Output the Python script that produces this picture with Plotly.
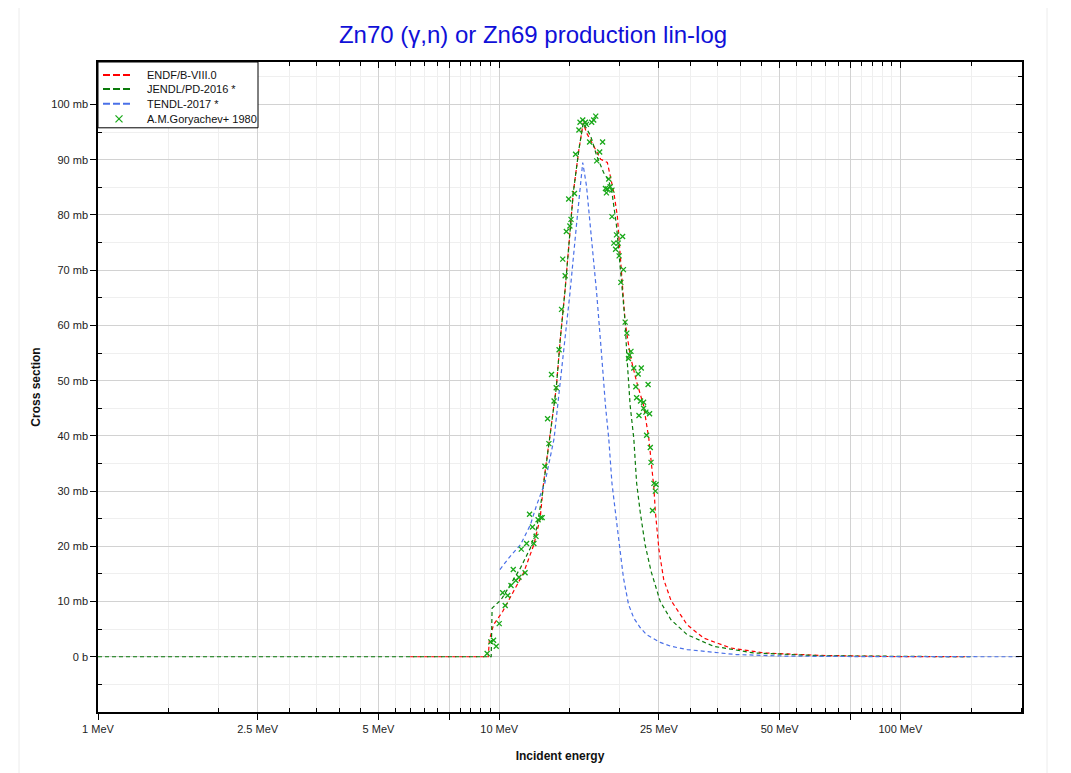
import plotly.graph_objects as go

# ---------------- data ----------------
endf_e = [6.0, 9.39, 9.45, 9.68, 10.2, 10.84, 11.5, 12.2, 12.65, 12.9, 13.4, 13.87, 14.2, 14.6,
          15.3, 15.8, 16.2, 16.5, 17.2, 17.9, 18.6, 18.9, 19.3, 19.7, 20.0, 20.4, 20.6, 21.2,
          22.0, 22.9, 23.6, 24.3, 24.5, 25.0, 25.7, 26.8, 29.4, 32.3, 37.7, 45.6, 63.0, 93.0, 145.0]
endf_y = [0, 0, 3.0, 5.8, 8.2, 11.9, 15.2, 20.3, 25.1, 31.5, 40.1, 48.6, 57.6, 66.6,
          84.1, 91.9, 96.7, 94.9, 92.5, 90.1, 89.5, 87.1, 84.1, 79.8, 73.8, 64.8, 60.6, 54.6,
          49.8, 45.5, 39.5, 30.5, 26.3, 19.5, 14.0, 10.2, 5.8, 3.4, 1.6, 0.7, 0.25, 0.05, 0.0]

jendl_e = [1.0, 9.55, 9.6, 10.1, 10.65, 11.3, 11.96, 12.4, 12.8, 13.4, 13.87, 14.2, 14.6, 15.3,
           15.8, 16.2, 16.9, 17.5, 18.2, 18.75, 19.1, 19.6, 20.2, 20.6, 20.8, 21.2, 21.65, 22.0,
           22.45, 23.1, 23.9, 25.2, 26.8, 29.4, 34.2, 43.0, 63.0, 100.0, 150.0]
jendl_y = [0, 0, 8.8, 10.3, 13.0, 16.1, 19.7, 23.3, 29.3, 40.1, 48.6, 57.6, 66.6, 84.1,
           91.9, 96.7, 94.3, 90.7, 87.7, 86.2, 84.1, 78.1, 66.6, 60.6, 54.6, 45.5, 39.5, 31.5,
           26.3, 20.3, 15.5, 10.0, 6.7, 4.0, 1.9, 0.7, 0.18, 0.03, 0.0]

tendl_e = [10.04, 10.65, 11.3, 11.96, 12.4, 13.0, 13.7, 14.3, 14.7, 15.0, 15.6, 16.15, 16.5, 17.0,
           17.5, 18.0, 18.4, 18.75, 19.1, 19.7, 20.4, 21.0, 21.65, 22.45, 23.3, 25.2, 26.8, 29.4,
           39.0, 52.0, 80.0, 200.0]
tendl_y = [15.8, 18.2, 20.3, 23.9, 27.5, 31.5, 39.5, 51.6, 60.6, 65.7, 78.6, 89.5, 85.3, 75.6,
           65.7, 54.6, 45.5, 39.5, 31.4, 23.3, 14.3, 9.5, 7.0, 5.3, 4.0, 2.6, 1.9, 1.3,
           0.4, 0.12, 0.03, 0.0]

exp_e = [9.33, 9.53, 9.68, 9.83, 10.0, 10.35, 10.2, 10.5, 10.7, 10.84, 11.0, 11.2, 11.6, 11.35,
         11.7, 12.2, 12.35, 12.1, 11.9, 12.5, 12.7, 12.8,
         13.0, 13.3, 13.2, 13.7, 13.87, 13.5, 14.1, 14.3,
         14.4, 14.6, 14.7, 15.0, 15.1, 14.9, 15.4, 15.5, 15.8, 15.9, 16.15, 16.4, 16.5, 16.8,
         17.0, 17.2, 17.4, 17.8, 18.1, 17.5, 18.75, 18.4, 18.6, 18.5, 19.1, 18.9, 19.1, 19.6,
         20.3, 19.3, 19.8, 19.5, 19.9, 20.4, 20.1,
         20.6, 20.8, 21.3, 21.1, 21.0, 21.65, 22.6, 22.2, 23.5, 21.9, 22.0, 22.5, 22.9, 22.9,
         23.2, 23.7, 22.3, 23.3, 23.8, 23.9, 24.3, 24.6, 24.5, 24.1]
exp_y = [0.6, 2.7, 3.0, 1.9, 6.0, 9.3, 11.6, 11.1, 12.9, 15.8, 13.8, 14.4, 15.2, 19.5,
         20.5, 20.5, 21.8, 23.5, 25.8, 24.8, 25.2, 25.2,
         34.5, 38.6, 43.1, 46.3, 48.7, 51.1, 55.6, 62.9,
         72.0, 69.0, 77.0, 78.0, 79.2, 82.9, 83.9, 91.0, 95.4, 96.8, 97.2, 96.8, 96.4, 93.2,
         96.8, 97.2, 97.9, 91.4, 93.2, 89.8, 86.5, 84.8, 84.7, 84.0, 84.5, 85.1, 79.7, 76.4,
         76.1, 74.9, 74.9, 73.8, 72.6, 70.1, 67.8,
         60.6, 58.6, 55.3, 54.6, 54.0, 52.3, 52.3, 51.2, 49.3, 48.9, 46.9, 46.3, 46.1, 45.0,
         44.3, 44.0, 43.7, 40.1, 37.9, 35.2, 31.4, 31.2, 30.0, 26.5]

series_names = ["ENDF/B-VIII.0", "JENDL/PD-2016 *", "TENDL-2017 *", "A.M.Goryachev+ 1980"]
series_colors = ["#ff0000", "#0a7a0a", "#4a70e8", "#18a818"]

x_major = [1, 2.5, 5, 7.5, 10, 25, 50, 75, 100]
x_major_text = ["1 MeV", "2.5 MeV", "5 MeV", "", "10 MeV", "25 MeV", "50 MeV", "", "100 MeV"]
x_minor = [1.5, 2, 3, 3.5, 4, 4.5, 5.5, 6, 6.5, 7, 8, 8.5, 9, 9.5,
           15, 20, 30, 35, 40, 45, 55, 60, 65, 70, 80, 85, 90, 95, 150, 200]
y_major = [0, 10, 20, 30, 40, 50, 60, 70, 80, 90, 100]
y_major_text = ["0 b"] + [f"{v} mb" for v in y_major[1:]]
y_minor = [-5, 5, 15, 25, 35, 45, 55, 65, 75, 85, 95, 105]

# ---------------- layout geometry (page has an 8px body margin) ----------------
W, H = 1063, 765
ML, MR, MT, MB = 90, 49, 54, 59
PL, PT = 8 + ML, 8 + MT               # plot-area left/top in page px
PW, PH = W - ML - MR, H - MT - MB      # plot-area size


def px(xp):
    return (xp - PL) / PW


def py(yp):
    return (PT + PH - yp) / PH


# ---------------- figure ----------------
DASH = "4px,3px"
fig = go.Figure()
for e, v, nm, col in [(endf_e, endf_y, series_names[0], series_colors[0]),
                      (jendl_e, jendl_y, series_names[1], series_colors[1]),
                      (tendl_e, tendl_y, series_names[2], series_colors[2])]:
    fig.add_trace(go.Scatter(x=e, y=v, mode="lines", name=nm, showlegend=False,
                             line=dict(color=col, width=1.2, dash=DASH)))
fig.add_trace(go.Scatter(x=exp_e, y=exp_y, mode="markers", name=series_names[3], showlegend=False,
                         marker=dict(symbol="x-thin", size=5, color=series_colors[3],
                                     line=dict(color=series_colors[3], width=1.3))))
# helper (empty) trace so the mirrored top/right axes get drawn
fig.add_trace(go.Scatter(x=[], y=[], xaxis="x2", yaxis="y2", showlegend=False, hoverinfo="skip"))

FONT = "Arial, Liberation Sans, sans-serif"
tickfont = dict(family=FONT, size=11, color="#222")
xr = [0, 2.303]
yr = [-10, 107.7]

# ---------------- legend drawn as box + samples + text ----------------
shapes = [dict(type="rect", xref="paper", yref="paper",
               x0=px(19), x1=px(1047), y0=-0.2, y1=py(5),
               line=dict(color="#ececec", width=1), fillcolor="rgba(0,0,0,0)", layer="below"),
          dict(type="rect", xref="paper", yref="paper",
               x0=0, x1=px(258), y0=py(128), y1=1,
               line=dict(color="black", width=1), fillcolor="white", layer="above")]
annotations = []
row_y = [75, 89, 104, 119]
for i, (nm, col) in enumerate(zip(series_names, series_colors)):
    yy = py(row_y[i])
    if i < 3:
        shapes.append(dict(type="line", xref="paper", yref="paper", x0=px(103), x1=px(131),
                           y0=yy, y1=yy, line=dict(color=col, width=2, dash="7px,3px"),
                           layer="above"))
    else:
        d = 3.5
        for s in (1, -1):
            shapes.append(dict(type="line", xref="paper", yref="paper",
                               x0=px(119 - d), x1=px(119 + d),
                               y0=py(row_y[i] - s * d), y1=py(row_y[i] + s * d),
                               line=dict(color=col, width=1.2), layer="above"))
    annotations.append(dict(text=nm, xref="paper", yref="paper", x=px(145), y=yy,
                            xanchor="left", yanchor="middle", showarrow=False,
                            font=dict(family=FONT, size=11, color="#111")))

fig.update_layout(
    width=W, height=H,
    margin=dict(l=ML, r=MR, t=MT, b=MB),
    paper_bgcolor="white", plot_bgcolor="white",
    font=dict(family=FONT, color="#222"),
    showlegend=False,
    title=dict(text="Zn70 (γ,n) or Zn69 production lin-log", x=(533 - 8) / W, xref="container",
               xanchor="center", y=1 - (35 - 8) / H, yanchor="middle", yref="container",
               font=dict(size=24, color="#1010d8", family=FONT)),
    xaxis=dict(type="log", range=xr, tickmode="array", tickvals=x_major, ticktext=x_major_text,
               ticks="outside", ticklen=6, tickcolor="black", tickwidth=1,
               showgrid=True, gridcolor="#d2d2d2", gridwidth=1,
               showline=True, linecolor="black", linewidth=1.5, mirror=True,
               zeroline=False, tickfont=tickfont,
               minor=dict(tickmode="array", tickvals=x_minor, ticks="inside", ticklen=4,
                          tickcolor="black", showgrid=True, gridcolor="#efefef", gridwidth=1),
               title=dict(text="<b>Incident energy</b>", font=dict(size=12, color="#111"),
                          standoff=18)),
    yaxis=dict(range=yr, tickmode="array", tickvals=y_major, ticktext=y_major_text,
               ticks="outside", ticklen=6, tickcolor="black", tickwidth=1,
               showgrid=True, gridcolor="#d2d2d2", gridwidth=1,
               showline=True, linecolor="black", linewidth=1.5, mirror=True,
               zeroline=False, tickfont=tickfont,
               minor=dict(tickmode="array", tickvals=y_minor, ticks="inside", ticklen=4,
                          tickcolor="black", showgrid=True, gridcolor="#efefef", gridwidth=1),
               title=dict(text="<b>Cross section</b>", font=dict(size=12, color="#111"),
                          standoff=8)),
    xaxis2=dict(type="log", range=xr, overlaying="x", side="top", anchor="y2",
                tickmode="array", tickvals=x_major, ticks="inside", ticklen=6,
                tickcolor="black", showticklabels=False, showgrid=False, zeroline=False,
                minor=dict(tickmode="array", tickvals=x_minor, ticks="inside", ticklen=4,
                           tickcolor="black", showgrid=False)),
    yaxis2=dict(range=yr, overlaying="y", side="right", anchor="x2",
                tickmode="array", tickvals=y_major, ticks="inside", ticklen=6,
                tickcolor="black", showticklabels=False, showgrid=False, zeroline=False,
                minor=dict(tickmode="array", tickvals=y_minor, ticks="inside", ticklen=4,
                           tickcolor="black", showgrid=False)),
    shapes=shapes,
    annotations=annotations,
)

fig.write_html("out.html")
